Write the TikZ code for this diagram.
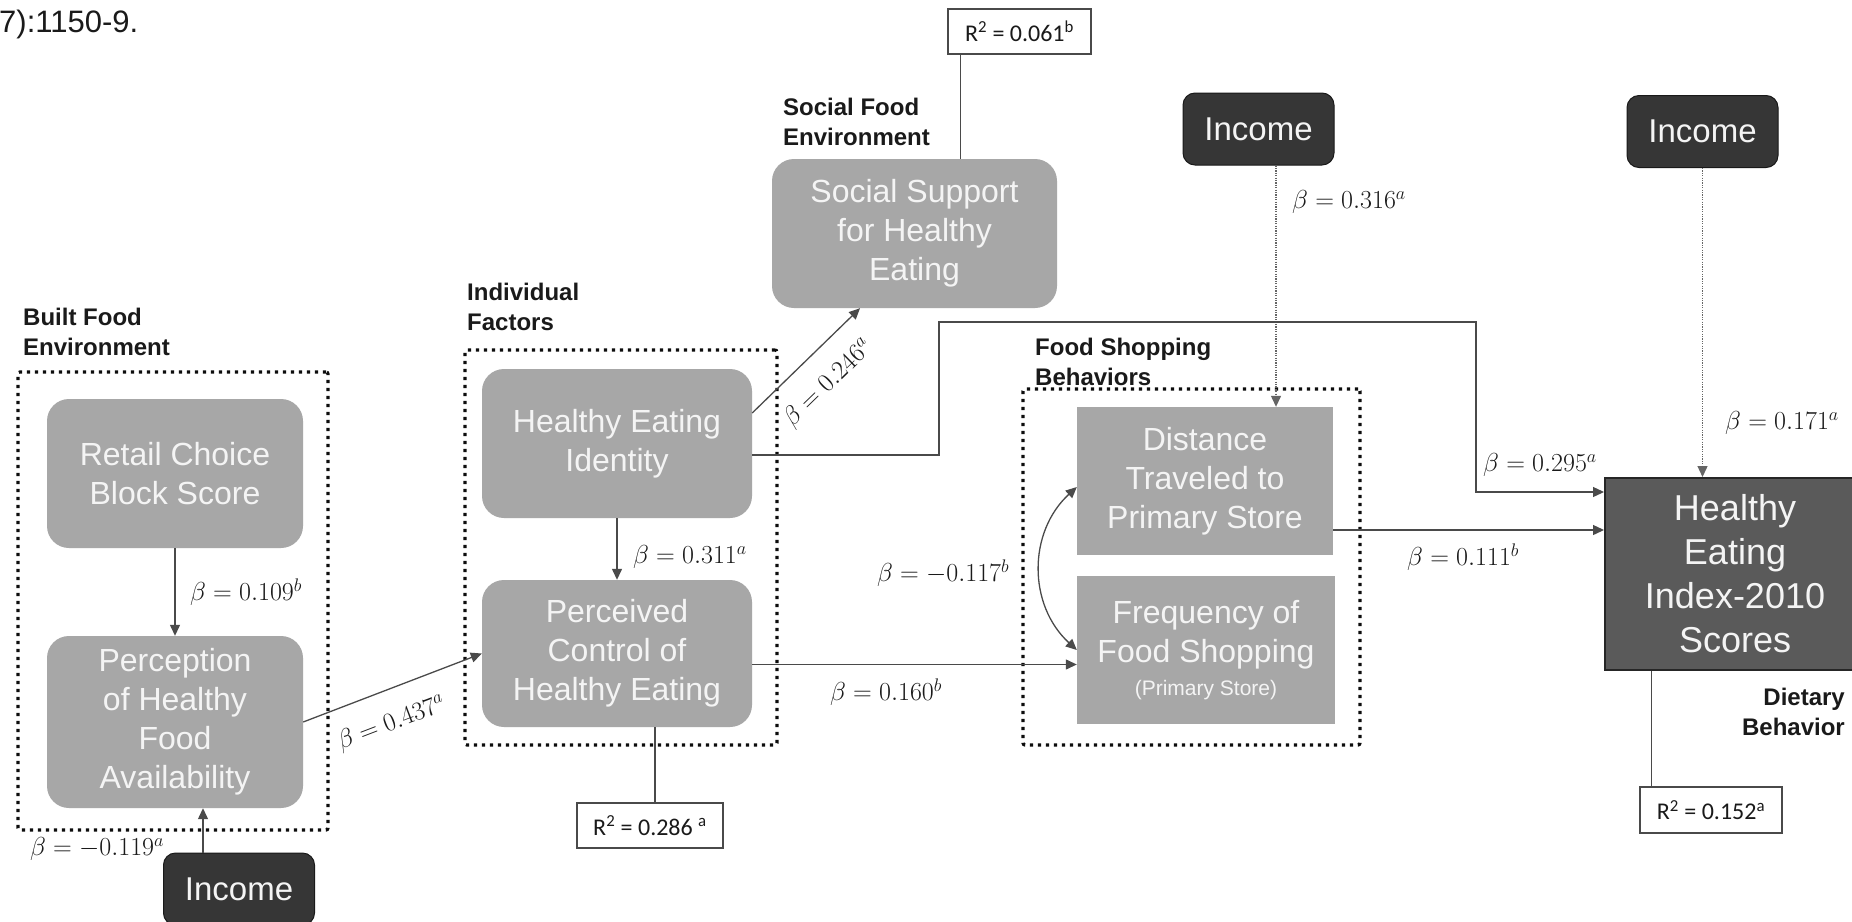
\RequirePackage{fix-cm}
\documentclass[tikz,border=0pt]{standalone}
\usepackage{fontspec}
\newfontfamily\arial{Liberation Sans}
\newfontfamily\carl{Carlito}
\usetikzlibrary{arrows.meta}

\definecolor{boxgray}{HTML}{A7A7A7}
\definecolor{boxtext}{HTML}{F4F4F4}
\definecolor{incfill}{HTML}{363636}
\definecolor{heifill}{HTML}{5A5A5A}
\definecolor{linegray}{HTML}{4A4A4A}
\definecolor{txtdark}{HTML}{1A1A1A}

\tikzset{
  gbox/.style={fill=boxgray, draw=none, rounded corners=22pt, text=boxtext, align=center, inner sep=0pt, font=\arial\fontsize{32}{39}\selectfont},
  sbox/.style={fill=boxgray, draw=none, text=boxtext, align=center, inner sep=0pt, font=\arial\fontsize{32}{39}\selectfont},
  incbox/.style={fill=incfill, draw=black!90, line width=1pt, rounded corners=12pt, text=boxtext, inner sep=0pt, minimum width=151pt, minimum height=72pt, font=\arial\fontsize{33}{40}\selectfont},
  grp/.style={draw=black!95, line width=3.2pt, dash pattern=on 3.2pt off 4.8pt, rounded corners=2pt, inner sep=0pt},
  conn/.style={draw=linegray, line width=1.3pt},
  arr/.style={conn, -{Triangle[length=11pt,width=10pt]}},
  darr/.style={draw=linegray!85, line width=1.3pt, dash pattern=on 1.2pt off 1.2pt, -{Triangle[length=11pt,width=10pt]}},
  beta/.style={text=txtdark, inner sep=0pt, font=\fontsize{26}{30}\selectfont},
  rsq/.style={draw=linegray, line width=1.5pt, fill=white, inner sep=0pt, text=txtdark, font=\carl\fontsize{24}{28}\selectfont},
  glabel/.style={text=txtdark, align=left, inner sep=0pt, font=\arial\bfseries\fontsize{24}{29.5}\selectfont},
}

\begin{document}
\begin{tikzpicture}[x=1pt, y=-1pt]
\clip (0,0) rectangle (1852,921);
\fill[white] (0,0) rectangle (1852,921);

% citation fragment
\node[anchor=base west, inner sep=0pt, text=txtdark, font=\arial\fontsize{31}{36}\selectfont] (cite) at (-1,32) {7):1150-9.};

% ---------- Built food environment ----------
\node[grp, minimum width=310pt, minimum height=458pt] (gbuilt) at (173,601) {};
\node[glabel, anchor=north west] (lbuilt) at (23,308) {Built Food\\Environment};
\node[gbox, minimum width=256pt, minimum height=149pt] (rc) at (175,473.5) {Retail Choice\\Block Score};
\node[gbox, minimum width=256pt, minimum height=172pt] (pa) at (175,722) {Perception\\of Healthy\\Food\\Availability};
\node[incbox] (inc1) at (239,889) {Income};

\draw[arr] (rc.south) -- (pa.north);
\node[beta, anchor=west] (b109) at (190,592) {$\beta = 0.109^{b}$};
\draw[arr] ([xshift=-36pt]inc1.north) -- ([xshift=-36pt]inc1.north |- pa.south);
\node[beta, anchor=west] (b119) at (30,849) {$\beta = -0.119^{a}$};

% ---------- Individual factors ----------
\node[grp, minimum width=312pt, minimum height=395pt] (gind) at (621,547.5) {};
\node[glabel, anchor=north west] (lind) at (467,283) {Individual\\Factors};
\node[gbox, minimum width=270pt, minimum height=149pt] (hei) at (617,443.5) {Healthy Eating\\Identity};
\node[gbox, minimum width=270pt, minimum height=147pt] (pc) at (617,653.5) {Perceived\\Control of\\Healthy Eating};
\draw[arr] (hei.south) -- (pc.north);
\node[beta, anchor=west] (b311) at (633,557) {$\beta = 0.311^{a}$};

\draw[arr] (pa.east) -- node[beta, sloped, below=21pt, pos=0.43] (b437) {$\beta = 0.437^{a}$} (pc.west);

\node[rsq, minimum width=146pt, minimum height=45pt] (r2pc) at (650,825.5) {R\textsuperscript{2} = 0.286 \textsuperscript{a}};
\draw[conn] ([xshift=5pt]r2pc.north) -- ([xshift=5pt]r2pc.north |- pc.south);

% ---------- Social food environment ----------
\node[glabel, anchor=north west] (lsoc) at (783,98) {Social Food\\Environment};
\node[gbox, minimum width=285pt, minimum height=149pt] (ss) at (914.5,233.5) {Social Support\\for Healthy\\Eating};
\node[rsq, minimum width=143pt, minimum height=45pt] (r2ss) at (1019.5,31.5) {R\textsuperscript{2} = 0.061\textsuperscript{b}};
\draw[conn] ([xshift=13pt]r2ss.south west) -- ([xshift=13pt]r2ss.south west |- ss.north);
\draw[arr] ([yshift=30.5pt]hei.east) -- node[beta, sloped, below=20pt, pos=0.5] (b246) {$\beta = 0.246^{a}$} ([xshift=-54.5pt]ss.south);

% ---------- Food shopping behaviors ----------
\node[grp, minimum width=337pt, minimum height=356pt] (gfood) at (1191.5,567) {};
\node[glabel, anchor=north west] (lfood) at (1035,338) {Food Shopping\\Behaviors};
\node[sbox, minimum width=256pt, minimum height=148pt] (dist) at (1205,481) {Distance\\Traveled to\\Primary Store};
\node[sbox, minimum width=258pt, minimum height=148pt] (freq) at (1206,650) {Frequency of\\Food Shopping\\[-6pt]{\fontsize{21}{25}\selectfont (Primary Store)}};

\draw[conn, {Triangle[length=11pt,width=10pt]}-{Triangle[length=11pt,width=10pt]}] ([yshift=-6pt]dist.west) .. controls +(-49,45) and +(-49,-45) .. (freq.west);
\node[beta, anchor=west] (b117) at (877,573) {$\beta = -0.117^{b}$};

\draw[arr] ([yshift=-11pt]pc.east) -- ([yshift=-11pt]pc.east -| freq.west);
\node[beta, anchor=west] (b160) at (830,692) {$\beta = 0.160^{b}$};

% ---------- Income (middle) ----------
\node[incbox] (inc2) at (1258.5,129) {Income};
\draw[darr] ([xshift=17.5pt]inc2.south) -- ([xshift=17.5pt]inc2.south |- dist.north);
\node[beta, anchor=west] (b316) at (1292,202) {$\beta = 0.316^{a}$};

% ---------- Dietary behavior ----------
\node[fill=heifill, draw=black!85, line width=2pt, minimum width=260pt, minimum height=192pt, inner sep=0pt, text=boxtext, align=center, font=\arial\fontsize{36}{44}\selectfont] (hh) at (1735,574) {Healthy\\Eating\\Index-2010\\Scores};
\node[glabel, align=right, anchor=north east] (ldiet) at (1845,688) {Dietary\\Behavior};

\node[incbox] (inc3) at (1702.5,131.5) {Income};
\draw[darr] (inc3.south) -- (inc3.south |- hh.north);
\node[beta, anchor=west] (b171) at (1725,423) {$\beta = 0.171^{a}$};

\coordinate (k1) at (939,322);
\coordinate (k2) at (1476,322);
\draw[arr] ([yshift=-11.5pt]hei.east) -| (k1) -- (k2) |- ([yshift=82pt]hh.west);
\node[beta, anchor=west] (b295) at (1483,465) {$\beta = 0.295^{a}$};

\draw[arr] ([yshift=-49pt]dist.east) -- ([yshift=-49pt]dist.east -| hh.west);
\node[beta, anchor=west] (b111) at (1407,557) {$\beta = 0.111^{b}$};

\node[rsq, minimum width=142pt, minimum height=46pt] (r2hh) at (1711,810) {R\textsuperscript{2} = 0.152\textsuperscript{a}};
\draw[conn] ([xshift=12pt]r2hh.north west) -- ([xshift=12pt]r2hh.north west |- hh.south);
\end{tikzpicture}
\end{document}
